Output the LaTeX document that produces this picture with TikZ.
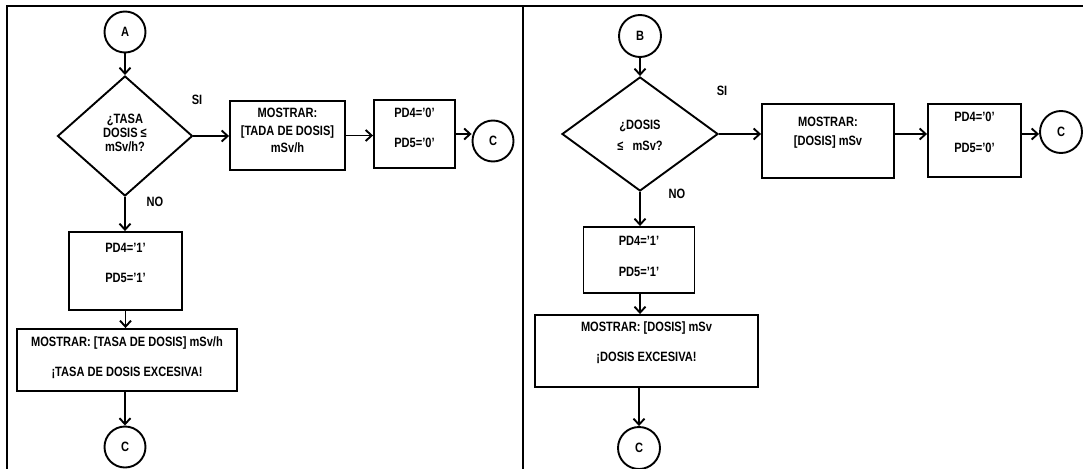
\documentclass[tikz,border=0pt]{standalone}
\usepackage{fontspec}
\setmainfont{Liberation Sans}[FakeStretch=0.82]
\usetikzlibrary{shapes.geometric,arrows.meta}
\begin{document}
\begin{tikzpicture}[x=1pt,y=-1pt,
  font=\fontsize{13.5}{15}\selectfont\bfseries,
  box/.style={draw, rectangle, line width=1.9pt, inner sep=0pt},
  conn/.style={draw, circle, line width=1.9pt, minimum size=41pt, inner sep=0pt},
  dec/.style={draw, diamond, line width=1.9pt, inner sep=0pt, aspect=1},
  txt/.style={align=center, inner sep=0pt},
  lbl/.style={inner sep=0pt},
  arr/.style={line width=1.9pt, -{Straight Barb[length=6pt,width=11pt]}},
  frame/.style={line width=1.9pt}]
\useasboundingbox (0,0) rectangle (1083,468);
% frame
\draw[frame] (7,472) -- (7,6) -- (1087,6);
\draw[frame] (523,6) -- (523,472);

% ---------- left panel ----------
\node[conn] (A) at (125,32) {A};
\node[dec, minimum width=135pt, minimum height=120pt] (d1) at (125,136) {};
\node[txt, font=\fontsize{13.5}{14}\selectfont\bfseries] (d1t) at (125,133) {¿TASA\\DOSIS ≤\\mSv/h?};
\node[lbl] (si1) at (197,100) {SI};
\node[lbl] (no1) at (155,202) {NO};
\node[box, minimum width=115pt, minimum height=69pt] (m1) at (287.5,135.5) {};
\node[txt] (m1t) at (287.5,130.5) {MOSTRAR:\\[2.5pt]{[TADA DE DOSIS]}\\[2.5pt]mSv/h};
\node[box, minimum width=81pt, minimum height=68pt] (p1) at (414.5,134) {};
\node[txt] (p1t) at (414.5,128) {PD4='0'\\[15pt]PD5='0'};
\node[conn] (C1) at (493,141) {C};
\node[box, minimum width=113pt, minimum height=78pt] (q1) at (125.5,271) {};
\node[txt] (q1t) at (125.5,263) {PD4='1'\\[15pt]PD5='1'};
\node[box, minimum width=220pt, minimum height=62pt] (r1) at (127,360) {};
\node[txt] (r1t) at (127,358) {MOSTRAR: [TASA DE DOSIS] mSv/h\\[15pt]¡TASA DE DOSIS EXCESIVA!};
\node[conn] (C2) at (125,447) {C};

\draw[arr] (A) -- (d1);
\draw[arr] (d1.east) -- (d1.east -| m1.west);
\draw[arr] (m1.east) -- (m1.east -| p1.west);
\draw[arr] (p1.east) -- (p1.east -| C1.west);
\draw[arr] (d1.south) -- (d1.south |- q1.north);
\draw[arr] (q1.south) -- (q1.south |- r1.north);
\draw[arr] (r1.south -| C2.north) -- (C2.north);

% ---------- right panel ----------
\node[conn, minimum size=42pt] (B) at (640,36) {B};
\node[dec, minimum width=156pt, minimum height=114pt] (d2) at (640,134) {};
\node[txt] (d2t) at (640,135.5) {¿DOSIS\\[6pt]≤\ \ \ mSv?};
\node[lbl] (si2) at (722,91) {SI};
\node[lbl] (no2) at (677,194) {NO};
\node[box, minimum width=132pt, minimum height=74pt] (m2) at (828,141) {};
\node[txt] (m2t) at (828,132.5) {MOSTRAR:\\[4pt]{[DOSIS] mSv}};
\node[box, minimum width=93pt, minimum height=73pt] (p2) at (974.5,140.5) {};
\node[txt] (p2t) at (974.5,132.5) {PD4='0'\\[16pt]PD5='0'};
\node[conn, minimum size=42pt] (C3) at (1061,132) {C};
\node[box, minimum width=111pt, minimum height=66pt] (q2) at (639,260) {};
\node[txt] (q2t) at (639,256.5) {PD4='1'\\[16pt]PD5='1'};
\node[box, minimum width=223pt, minimum height=72pt] (r2) at (646.5,351) {};
\node[txt] (r2t) at (646.5,343) {MOSTRAR: [DOSIS] mSv\\[15pt]¡DOSIS EXCESIVA!};
\node[conn, minimum size=42pt] (C4) at (639,448) {C};

\draw[arr] (B) -- (d2);
\draw[arr] (d2.east) -- (d2.east -| m2.west);
\draw[arr] (d2.east -| m2.east) -- (d2.east -| p2.west);
\draw[arr] (d2.east -| p2.east) -- (d2.east -| C3.west);
\draw[arr] (d2.south) -- (d2.south |- q2.north);
\draw[arr] (d2.south |- q2.south) -- (d2.south |- r2.north);
\draw[arr] (r2.south -| C4.north) -- (C4.north);
\end{tikzpicture}
\end{document}
